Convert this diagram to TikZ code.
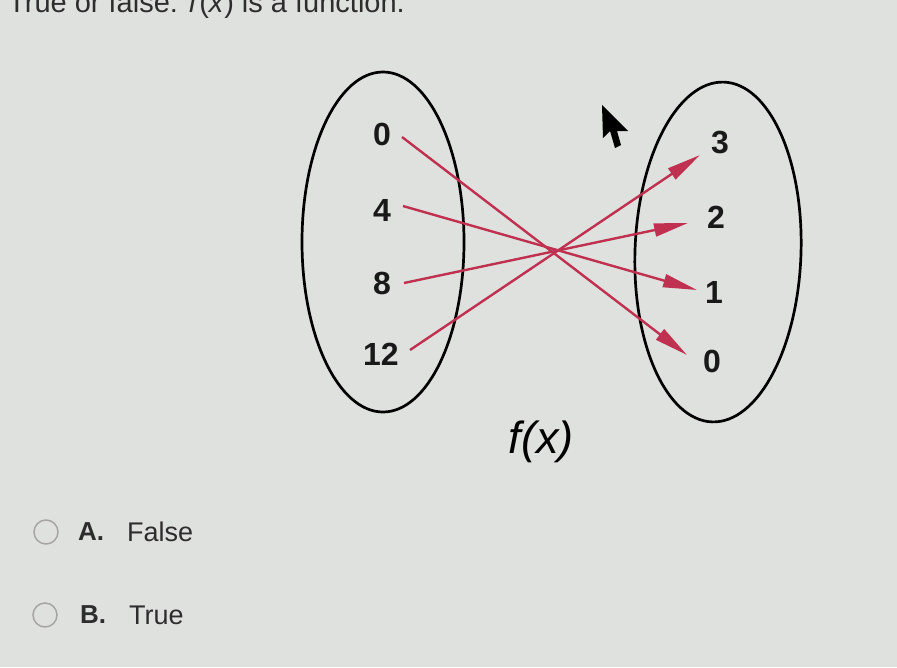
\documentclass[tikz,border=0pt]{standalone}
\usepackage{fontspec}
\setmainfont{Liberation Sans}
\usetikzlibrary{arrows.meta,calc}
\definecolor{bg}{RGB}{223,225,222}
\definecolor{arrowred}{RGB}{192,48,80}
\definecolor{txt}{RGB}{45,45,45}
\definecolor{radio}{RGB}{165,165,165}
\tikzset{
  ell/.style={draw=black, line width=2.7pt},
  lab/.style={font=\bfseries\fontsize{32}{32}\selectfont, inner sep=0pt, text=black!90},
  arr/.style={draw=arrowred, line width=2.4pt, -{Triangle[length=34pt,width=13pt,fill=arrowred]}},
  opt/.style={font=\fontsize{27}{27}\selectfont, text=txt, inner sep=0pt, anchor=west},
  radiobtn/.style={draw=radio, line width=1.5pt}
}
\begin{document}
\begin{tikzpicture}[x=1pt,y=-1pt]
\fill[bg] (0,0) rectangle (897,667);
\useasboundingbox (0,0) rectangle (897,667);

% question (cut off at the top edge)
\node[font=\fontsize{29}{29}\selectfont, text=txt, anchor=base west, inner sep=0pt] (q) at (8,12)
  {True or false: \textit{f}(\textit{x}) is a function.};

% sets
\draw[ell] (383,242) ellipse [x radius=81pt, y radius=170pt];
\draw[ell, rotate around={-2:(718,252)}] (718,252) ellipse [x radius=83pt, y radius=170pt];

% domain labels
\node[lab] (l0)  at (382,134) {0};
\node[lab] (l4)  at (382,210) {4};
\node[lab] (l8)  at (382,283) {8};
\node[lab] (l12) at (381,354) {12};
% range labels
\node[lab] (r3) at (720,143) {3};
\node[lab] (r2) at (716,217) {2};
\node[lab] (r1) at (714,292) {1};
\node[lab] (r0) at (712,361) {0};

% mapping arrows
\draw[arr] ($(l0)+(20,3)$)   -- ($(r0)+(-25,-6)$);
\draw[arr] ($(l4)+(21,-4)$)  -- ($(r1)+(-17,-2)$);
\draw[arr] ($(l8)+(22,0)$)   -- ($(r2)+(-28,6)$);
\draw[arr] ($(l12)+(29,-4)$) -- ($(r3)+(-20,12)$);

% function name
\node[font=\itshape\fontsize{45}{45}\selectfont, inner sep=0pt] (fx) at (541,442) {f(x)};

% mouse cursor
\fill[black] (602,105) -- (603,138) -- (610,131) -- (615,148) -- (621,145) -- (617,131) -- (628,131) -- cycle;

% answer options
\draw[radiobtn] (46,532) circle [radius=12pt];
\node[opt, font=\bfseries\fontsize{26}{26}\selectfont] (a) at (78,532) {A.};
\node[opt] (af) at (127,532) {False};
\draw[radiobtn] (45,615) circle [radius=12pt];
\node[opt, font=\bfseries\fontsize{26}{26}\selectfont] (b) at (80,615) {B.};
\node[opt] (bt) at (129,615) {True};
\end{tikzpicture}
\end{document}
